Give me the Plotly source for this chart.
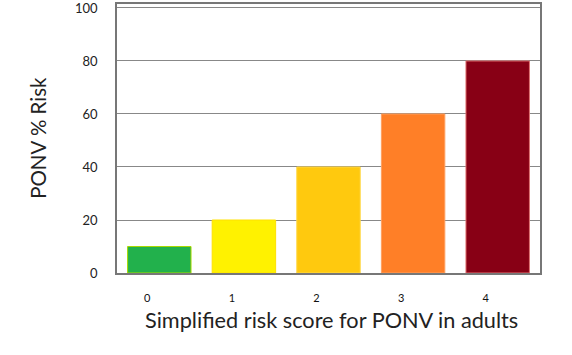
import plotly.graph_objects as go

categories = ["0", "1", "2", "3", "4"]
risk_values = [10, 20, 40, 60, 80]
bar_colors = ["#22B14C", "#FFF200", "#FFC90E", "#FF7F27", "#880015"]
edge_colors = ["#A8D800", "#FFE000", "#FFD84A", "#FFA060", "#E07070"]
y_ticks = [0, 20, 40, 60, 80, 100]
x_title = "Simplified risk score for PONV in adults"
y_title = "PONV % Risk"

fig = go.Figure(go.Bar(
    x=categories, y=risk_values,
    marker=dict(color=bar_colors, line=dict(color=edge_colors, width=1)),
))

fig.update_layout(
    width=572, height=355,
    margin=dict(l=117, r=32, t=4, b=82, autoexpand=False),
    paper_bgcolor="white", plot_bgcolor="white",
    bargap=0.25, showlegend=False,
    font=dict(family="Lato", color="#222"),
    annotations=[
        dict(text=x_title, xref="paper", yref="paper", x=0.506, y=-0.175,
             xanchor="center", yanchor="middle", showarrow=False,
             font=dict(size=21.7, color="#222")),
        dict(text=y_title, xref="paper", yref="paper", x=-0.187, y=0.502,
             xanchor="center", yanchor="middle", showarrow=False, textangle=-90,
             font=dict(size=20.5, color="#222")),
    ],
)
fig.update_xaxes(
    type="category", automargin=False,
    showline=True, linecolor="#777", linewidth=1.5, mirror=True,
    ticks="", ticklabelshift=-12, ticklabelstandoff=14,
    tickfont=dict(size=11, color="#111"),
)
fig.update_yaxes(
    range=[0, 101.5], tickvals=y_ticks, automargin=False,
    showgrid=True, gridcolor="#888", gridwidth=1.3,
    zeroline=False, ticklabeloverflow="allow",
    showline=True, linecolor="#777", linewidth=1.5, mirror=True,
    ticks="", ticklabelstandoff=15,
    tickfont=dict(size=13, color="#222"),
)

fig.write_html("out.html", config={"displayModeBar": False},
               post_script="document.body.style.margin='0';")
